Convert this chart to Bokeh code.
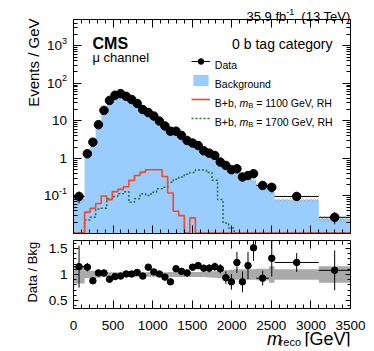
import math
import numpy as np
from bokeh.plotting import figure
from bokeh.models import FixedTicker, LinearAxis, LogAxis, Label, Legend, LegendItem
from bokeh.layouts import column
from bokeh.embed import file_html
from bokeh.resources import INLINE

# ---------------- data ----------------
bin_edges = [0, 140, 210, 280, 350, 420, 490, 560, 630, 700, 770, 840, 910, 980,
             1050, 1120, 1190, 1260, 1330, 1400, 1470, 1540, 1610, 1680, 1750,
             1820, 1890, 1960, 2030, 2100, 2170, 2240, 2310, 2470, 2540, 3100, 3500]

data_values = [0.097, 1.33, 2.7, 7.9, 19, 35, 48, 53, 45, 37, 29, 20, 16.6, 13.4,
               9.9, 7.3, 5.3, 5.3, 4.1, 3.0, 2.56, 2.2, 1.6, 1.38, 1.2, 0.80, 0.65,
               0.50, 0.53, 0.32, 0.35, 0.39, 0.19, 0.17, 0.097, 0.027]

bkg_values = [0.084, 1.17, 3.07, 7.7, 18.4, 38.5, 50, 54.6, 44.6, 36.6, 27.9, 20.6,
              14.6, 12.8, 9.8, 7.7, 6.2, 4.8, 3.87, 2.9, 2.25, 1.88, 1.43, 1.23,
              1.04, 0.72, 0.69, 0.58, 0.43, 0.37, 0.30, 0.26, 0.20, 0.13, 0.079, 0.025]

ratio_values = [1.15, 1.14, 0.88, 1.03, 1.03, 0.91, 0.96, 0.97, 1.01, 1.01, 1.04,
                0.97, 1.14, 1.05, 1.01, 0.95, 0.86, 1.11, 1.06, 1.03, 1.14, 1.17,
                1.12, 1.12, 1.15, 1.11, 0.94, 0.86, 1.23, 0.86, 1.17, 1.51, 0.93,
                1.31, 1.23, 1.08]

ratio_errors = [0.40, 0.08, 0.06, 0.04, 0.03, 0.03, 0.03, 0.03, 0.03, 0.03, 0.03,
                0.03, 0.035, 0.035, 0.035, 0.04, 0.04, 0.05, 0.05, 0.06, 0.06, 0.07,
                0.07, 0.08, 0.08, 0.09, 0.12, 0.15, 0.20, 0.20, 0.26, 0.25, 0.14,
                0.35, 0.18, 0.38]

bkg_unc = [0.17, 0.07, 0.07, 0.06, 0.05, 0.045, 0.045, 0.045, 0.045, 0.045, 0.045,
           0.045, 0.045, 0.045, 0.045, 0.045, 0.05, 0.05, 0.05, 0.05, 0.05, 0.05,
           0.05, 0.055, 0.06, 0.07, 0.08, 0.09, 0.10, 0.10, 0.10, 0.10, 0.11, 0.16,
           0.10, 0.16]

sig_1100 = [0, 0.037, 0.047, 0.063, 0.10, 0.08, 0.13, 0.15, 0.175, 0.26, 0.35, 0.43,
            0.50, 0.50, 0.50, 0.33, 0.12, 0.039, 0.030, 0, 0.026, 0, 0, 0, 0, 0, 0,
            0, 0, 0, 0, 0, 0, 0, 0, 0]

sig_1700 = [0, 0.023, 0.027, 0.045, 0.047, 0.084, 0.097, 0.114, 0.13, 0.068, 0.084,
            0.114, 0.103, 0.126, 0.155, 0.17, 0.23, 0.28, 0.32, 0.38, 0.42, 0.49,
            0.49, 0.42, 0.26, 0.08, 0.019, 0.014, 0, 0, 0, 0, 0, 0, 0, 0]

x_ticks = [0, 500, 1000, 1500, 2000, 2500, 3000, 3500]
x_tick_labels = ["0", "500", "1000", "1500", "2000", "2500", "3000", "3500"]
y_ticks = [0.1, 1, 10, 100, 1000]
y_tick_base = ["10", "1", "10", "10", "10"]
y_tick_exp = ["-1", "", "", "2", "3"]
ratio_ticks = [0.5, 1.0, 1.5]
ratio_tick_labels = ["0.5", "1", "1.5"]

# ---------------- styling / geometry ----------------
FONT = "Liberation Sans"
XMIN, XMAX = 0, 3500
YMIN, YMAX = 0.01, 5000
RMIN, RMAX = 0.35, 1.65
BLUE = "#99ccff"
RED = "#ff4422"
GREEN = "#2f6b3a"
BAND = "#aaaaaa"

# pixel layout of the drawn boxes (page pixels)
BOX_L, BOX_R = 73, 350            # x of the axis box, both panels
M_TOP, M_BOT = 19, 233            # main box
R_TOP, R_BOT = 240, 308           # ratio box
FR_L = 4                          # frames extend to here on the left
GPP = (XMAX - XMIN) / (BOX_R - BOX_L)                 # GeV per pixel
DPP = math.log10(YMAX / YMIN) / (M_BOT - M_TOP)       # decades per pixel
PPU = (R_BOT - R_TOP) / (RMAX - RMIN)                 # pixels per ratio unit

edges = np.array(bin_edges, dtype=float)
left, right = edges[:-1], edges[1:]
centers = 0.5 * (left + right)
data = np.array(data_values)
bkg = np.array(bkg_values)
ratio = np.array(ratio_values)
rerr = np.array(ratio_errors)
unc = np.array(bkg_unc)
data_err = rerr * bkg

x_minor = [v for v in range(0, 3501, 100) if v not in x_ticks]
y_minor = [m * 10.0 ** e for e in range(-2, 4) for m in range(2, 10) if m * 10.0 ** e < YMAX]
r_minor = [round(0.4 + 0.1 * i, 2) for i in range(13) if round(0.4 + 0.1 * i, 2) not in ratio_ticks]

CHAR_W = {"-": 0.333}


def text_w(s, size):
    return sum(CHAR_W.get(c, 0.556) for c in s) * size


def style_axis(ax, major, minor):
    ax.major_tick_in = major
    ax.major_tick_out = 0
    ax.minor_tick_in = minor
    ax.minor_tick_out = 0
    ax.axis_line_color = "black"
    ax.major_tick_line_color = "black"
    ax.minor_tick_line_color = "black"
    ax.axis_label = None
    ax.major_label_text_color = None
    ax.major_label_text_font_size = "1px"
    ax.major_label_standoff = 0


def add_label(fig, x, y, text, size, align="left", baseline="alphabetic",
              style="normal", angle=0.0, x_units="screen", y_units="screen", y_offset=0):
    fig.add_layout(Label(x=x, y=y, x_units=x_units, y_units=y_units, text=text,
                         text_font=FONT, text_font_size=f"{size}px", text_align=align,
                         text_baseline=baseline, text_font_style=style,
                         text_color="black", angle=angle, y_offset=y_offset))


def step_xy(vals, floor):
    xs, ys = [], []
    for l, r_, v in zip(left, right, vals):
        v = max(v, floor)
        xs += [l, r_]
        ys += [v, v]
    return xs, ys


# ---------------- main panel ----------------
# frame: page x 4..354, page y 4..233 ; the axis box is drawn by fixed axes
M_FR_T, M_FR_R = 4, 354
p = figure(frame_width=M_FR_R - FR_L, frame_height=M_BOT - M_FR_T,
           x_range=(XMIN - (BOX_L - FR_L) * GPP, XMAX + (M_FR_R - BOX_R) * GPP),
           y_range=(YMIN, YMAX * 10 ** ((M_TOP - M_FR_T) * DPP)),
           y_axis_type="log", output_backend="svg", toolbar_location=None,
           min_border_left=FR_L, min_border_right=374 - M_FR_R,
           min_border_top=M_FR_T, min_border_bottom=4)
p.xgrid.visible = False
p.ygrid.visible = False
p.outline_line_color = None

bx, by = step_xy(bkg, YMIN)
bkg_r = p.patch([XMIN] + bx + [XMAX], [YMIN] + by + [YMIN], fill_color=BLUE, line_color=None)
p.quad(left=left, right=right, bottom=bkg * (1 - unc), top=bkg * (1 + unc), fill_alpha=0,
       line_color=None, hatch_pattern="diagonal_cross", hatch_color="#8a8a8a",
       hatch_scale=4, hatch_weight=0.6, hatch_alpha=0.7)

gx, gy = step_xy(sig_1700, YMIN * 1.03)
green_r = p.line(gx, gy, line_color=GREEN, line_width=1.5, line_dash="2 2")
rx, ry = step_xy(sig_1100, YMIN * 1.03)
red_r = p.line(rx, ry, line_color=RED, line_width=1.6)

p.segment(x0=centers, y0=data - data_err, x1=centers, y1=data + data_err,
          line_color="black", line_width=1)
data_h = p.segment(x0=left, y0=data, x1=right, y1=data, line_color="black", line_width=1)
data_pts = p.scatter(centers, data, size=8.5, marker="circle", fill_color="black",
                     line_color="black")

xt = FixedTicker(ticks=x_ticks, minor_ticks=x_minor)
yt = FixedTicker(ticks=y_ticks, minor_ticks=y_minor)
for ax in p.xaxis:
    ax.ticker = xt
    ax.bounds = (XMIN, XMAX)
    style_axis(ax, 8, 4)
for ax in p.yaxis:
    ax.ticker = yt
    ax.bounds = (YMIN, YMAX)
    ax.fixed_location = XMIN
    style_axis(ax, 8, 4)
top_ax = LinearAxis(ticker=xt, bounds=(XMIN, XMAX), fixed_location=YMAX)
style_axis(top_ax, 8, 4)
p.add_layout(top_ax, "above")
right_ax = LogAxis(ticker=yt, bounds=(YMIN, YMAX), fixed_location=XMAX)
style_axis(right_ax, 8, 4)
p.add_layout(right_ax, "right")


def mx(x_page):
    return x_page - FR_L


def my(y_page):
    return M_BOT - y_page


legend = Legend(items=[LegendItem(label="Data", renderers=[data_h, data_pts]),
                       LegendItem(label="Background", renderers=[bkg_r]),
                       LegendItem(label="B+b 1100", renderers=[red_r]),
                       LegendItem(label="B+b 1700", renderers=[green_r])],
                location=(mx(191.3), my(125.2)), glyph_width=19, glyph_height=14,
                label_height=13, spacing=5, padding=0, margin=0, label_standoff=4,
                label_text_font_size="10.5px", label_text_color=None,
                border_line_color=None, background_fill_alpha=0)
p.add_layout(legend)

# lumi text above the box
add_label(p, mx(350), my(16), "(13 TeV)", 13, align="right")
add_label(p, mx(350) - text_w("(13 TeV)", 13) * 0.91 - 3.6, my(11), "-1", 9, align="right")
add_label(p, mx(350) - text_w("(13 TeV)", 13) * 0.91 - 11.6, my(16), "35.9 fb", 13, align="right")
# texts inside the box
add_label(p, mx(92), my(43.3), "CMS", 16, style="bold")
add_label(p, mx(92), my(57), "\u03bc channel", 13)
add_label(p, mx(332), my(43), "0 b tag category", 14, align="right")
add_label(p, mx(33.3), my(18), "Events / GeV", 15, align="right", angle=math.pi / 2)
# y tick labels
for t, base, ex in zip(y_ticks, y_tick_base, y_tick_exp):
    xr = mx(66.5)
    if ex:
        add_label(p, xr, t, ex, 9, align="right", baseline="middle", y_units="data", y_offset=5)
        xr -= text_w(ex, 9)
    add_label(p, xr, t, base, 13.5, align="right", baseline="middle", y_units="data")

LX = mx(214.3)
add_label(p, LX, my(64.2), "Data", 10.5)
add_label(p, LX, my(83.2), "Background", 10.5)
for yb, mass in ((my(102.2), "1100"), (my(121.2), "1700")):
    add_label(p, LX, yb, "B+b,", 10.5)
    add_label(p, LX + 24.8, yb, "m", 10.5, style="italic")
    add_label(p, LX + 33.5, yb - 2.5, "B", 7.5)
    add_label(p, LX + 41.4, yb, f"= {mass} GeV, RH", 10.5)

# ---------------- ratio panel ----------------
# frame: page x 4..370, page y 240..346
R_FR_R, R_FR_B = 370, 346
r = figure(frame_width=R_FR_R - FR_L, frame_height=R_FR_B - R_TOP,
           x_range=(XMIN - (BOX_L - FR_L) * GPP, XMAX + (R_FR_R - BOX_R) * GPP),
           y_range=(RMIN - (R_FR_B - R_BOT) / PPU, RMAX),
           output_backend="svg", toolbar_location=None,
           min_border_left=FR_L, min_border_right=374 - R_FR_R,
           min_border_top=3, min_border_bottom=3)
r.xgrid.visible = False
r.ygrid.visible = False
r.outline_line_color = None

ux, uy = step_xy(1 + unc, -10)
lx, ly = step_xy(1 - unc, -10)
r.patch(ux + lx[::-1], uy + ly[::-1], fill_color=BAND, line_color=None)
r.segment(x0=centers, y0=ratio - rerr, x1=centers, y1=ratio + rerr, line_color="black",
          line_width=1)
r.segment(x0=left, y0=ratio, x1=right, y1=ratio, line_color="black", line_width=1)
r.scatter(centers, ratio, size=6.5, marker="circle", fill_color="black", line_color="black")

rt = FixedTicker(ticks=ratio_ticks, minor_ticks=r_minor)
for ax in r.xaxis:
    ax.ticker = xt
    ax.fixed_location = RMIN
    ax.bounds = (XMIN, XMAX)
    style_axis(ax, 8, 4)
for ax in r.yaxis:
    ax.ticker = rt
    ax.fixed_location = XMIN
    ax.bounds = (RMIN, RMAX)
    style_axis(ax, 5, 3)
rtop = LinearAxis(ticker=xt, bounds=(XMIN, XMAX))
style_axis(rtop, 8, 4)
r.add_layout(rtop, "above")
rright = LinearAxis(ticker=rt, bounds=(RMIN, RMAX), fixed_location=XMAX)
style_axis(rright, 5, 3)
r.add_layout(rright, "right")


def rx_(x_page):
    return x_page - FR_L


def ry_(y_page):
    return R_FR_B - y_page


for t, lab in zip(x_ticks, x_tick_labels):
    add_label(r, t, ry_(325), lab, 13.5, align="center", x_units="data")
for t, lab in zip(ratio_ticks, ratio_tick_labels):
    add_label(r, rx_(67), t, lab, 13.5, align="right", baseline="middle", y_units="data")
add_label(r, rx_(32), ry_(271.7), "Data / Bkg", 13, align="center", angle=math.pi / 2)
add_label(r, rx_(350), ry_(338), "[GeV]", 18, align="right")
add_label(r, rx_(300.5), ry_(341.5), "reco", 11, align="right")
add_label(r, rx_(281.5), ry_(338), "m", 18, align="right", style="italic")

layout = column(p, r)
open("out.html", "w").write(file_html(layout, INLINE))
